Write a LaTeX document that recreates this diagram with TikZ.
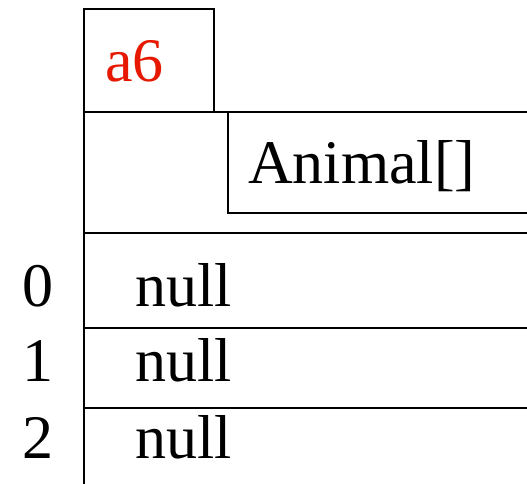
\documentclass[tikz,border=0pt]{standalone}
\usepackage{fontspec}
\setmainfont{Liberation Serif}
\definecolor{varred}{RGB}{230,25,0}
\begin{document}
\begin{tikzpicture}[x=1pt,y=-1pt,
  frame/.style={line width=2.2pt,draw=black},
  rule/.style={line width=2pt,draw=black},
  lbl/.style={anchor=base west,inner sep=0pt,font=\fontsize{62}{62}\selectfont},
  idx/.style={anchor=base,inner sep=0pt,font=\fontsize{62}{62}\selectfont}]
  \useasboundingbox (0,0) rectangle (527,484);
  % variable box
  \draw[frame] (84,9) rectangle (214,112);
  \node[lbl,text=varred] (var) at (105,82) {a6};
  % object header
  \draw[rule] (84,112) -- (527,112);
  \draw[frame] (527,112) -- (228,112) -- (228,213) -- (527,213);
  \node[lbl] (type) at (248,183) {Animal[]};
  % array slots
  \draw[rule] (84,9) -- (84,484);
  \draw[rule] (84,233) -- (527,233);
  \draw[rule] (84,328) -- (527,328);
  \draw[rule] (84,408) -- (527,408);
  \node[idx] (i0) at (38,306) {0};
  \node[idx] (i1) at (38,381) {1};
  \node[idx] (i2) at (38,458) {2};
  \node[lbl] (v0) at (135,306) {null};
  \node[lbl] (v1) at (135,381) {null};
  \node[lbl] (v2) at (135,458) {null};
\end{tikzpicture}
\end{document}
